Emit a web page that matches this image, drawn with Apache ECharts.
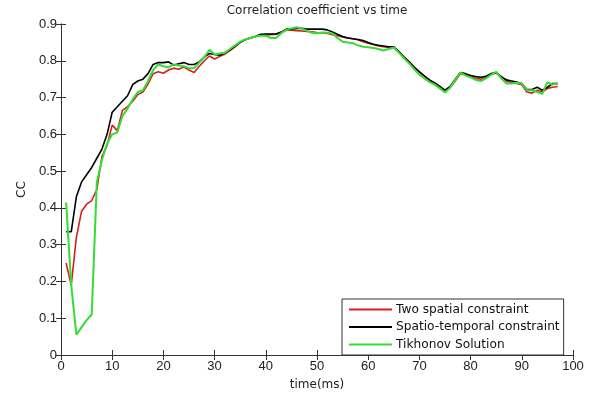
<!DOCTYPE html>
<html>
<head>
<meta charset="utf-8">
<script src="https://cdn.jsdelivr.net/npm/echarts@6/dist/echarts.min.js"></script>
<style>
html,body{margin:0;padding:0;background:#fff;}
#c{width:592px;height:396px;}
</style>
</head>
<body>
<div id="c"></div>
<script>
var times = [1,2,3,4,5,6,7,8,9,10,11,12,13,14,15,16,17,18,19,20,21,22,23,24,25,26,27,28,29,30,31,32,33,34,35,36,37,38,39,40,41,42,43,44,45,46,47,48,49,50,51,52,53,54,55,56,57,58,59,60,61,62,63,64,65,66,67,68,69,70,71,72,73,74,75,76,77,78,79,80,81,82,83,84,85,86,87,88,89,90,91,92,93,94,95,96,97];

var twoSpatial = [0.25,0.19,0.32,0.39,0.41,0.42,0.45,0.54,0.57,0.625,0.61,0.665,0.675,0.69,0.708,0.715,0.737,0.765,0.77,0.766,0.775,0.78,0.777,0.783,0.775,0.768,0.785,0.8,0.813,0.805,0.812,0.818,0.828,0.838,0.85,0.857,0.862,0.866,0.87,0.871,0.871,0.872,0.877,0.883,0.883,0.882,0.881,0.88,0.879,0.877,0.876,0.874,0.871,0.868,0.865,0.862,0.86,0.857,0.852,0.848,0.844,0.84,0.838,0.836,0.836,0.824,0.81,0.797,0.782,0.77,0.758,0.745,0.737,0.727,0.717,0.727,0.745,0.765,0.762,0.758,0.752,0.75,0.755,0.763,0.767,0.755,0.745,0.74,0.738,0.735,0.715,0.712,0.72,0.715,0.725,0.728,0.73];

var spatioTemporal = [0.335,0.335,0.43,0.47,0.49,0.51,0.535,0.56,0.6,0.66,0.675,0.69,0.705,0.735,0.745,0.75,0.765,0.79,0.795,0.795,0.797,0.788,0.792,0.795,0.79,0.79,0.797,0.81,0.82,0.817,0.815,0.822,0.83,0.84,0.85,0.858,0.862,0.866,0.872,0.873,0.873,0.873,0.878,0.886,0.886,0.888,0.888,0.886,0.886,0.886,0.886,0.884,0.878,0.872,0.866,0.862,0.86,0.858,0.855,0.85,0.845,0.842,0.84,0.838,0.838,0.825,0.81,0.797,0.782,0.77,0.758,0.748,0.74,0.73,0.72,0.73,0.75,0.768,0.765,0.76,0.757,0.755,0.758,0.765,0.768,0.757,0.748,0.745,0.742,0.738,0.722,0.722,0.728,0.72,0.728,0.738,0.738];

var tikhonov = [0.415,0.19,0.055,0.075,0.095,0.11,0.47,0.53,0.575,0.6,0.605,0.65,0.67,0.695,0.715,0.72,0.745,0.775,0.79,0.785,0.782,0.79,0.787,0.785,0.78,0.78,0.795,0.81,0.83,0.817,0.82,0.822,0.832,0.842,0.852,0.858,0.862,0.866,0.868,0.868,0.862,0.862,0.875,0.884,0.888,0.891,0.888,0.882,0.876,0.875,0.877,0.876,0.874,0.862,0.852,0.85,0.848,0.842,0.838,0.837,0.835,0.832,0.828,0.832,0.836,0.822,0.807,0.793,0.777,0.762,0.752,0.742,0.735,0.725,0.714,0.727,0.748,0.768,0.76,0.755,0.748,0.745,0.752,0.762,0.77,0.752,0.738,0.738,0.74,0.738,0.72,0.72,0.715,0.71,0.742,0.735,0.74];

var seriesNames = ['Two spatial constraint','Spatio-temporal constraint','Tikhonov Solution'];
var seriesColors = ['#d81e1e','#000000','#33dd33'];

function pairs(vals){ return times.map(function(t,i){ return [t, vals[i]]; }); }

var font = 'Liberation Sans, Arial, sans-serif';
var wide = 'DejaVu Sans, sans-serif';
var axisCommon = {
  axisLine:{show:true, lineStyle:{color:'#333', width:1}},
  axisTick:{show:true, inside:true, length:5, lineStyle:{color:'#333'}},
  splitLine:{show:false}
};

var chart = echarts.init(document.getElementById('c'), null, {renderer:'canvas'});
chart.setOption({
  animation:false,
  backgroundColor:'#fff',
  title:{text:'Correlation coefficient vs time', left:312, top:0, textAlign:'center',
    textStyle:{fontFamily:wide, fontSize:12, fontWeight:'normal', color:'#222'}},
  grid:{left:61, right:19, top:24, bottom:36, containLabel:false},
  legend:{
    orient:'vertical', left:342, top:299,
    data:seriesNames, icon:'rect', itemWidth:43, itemHeight:2, itemGap:2.5,
    padding:[3,4,3,7],
    borderColor:'#333', borderWidth:1, backgroundColor:'#fff',
    textStyle:{fontFamily:wide, fontSize:12.2, color:'#111', lineHeight:14, padding:[1,0,0,-1]}
  },
  xAxis:[
    Object.assign({type:'value', min:0, max:100, interval:10, position:'bottom',
      name:'time(ms)', nameLocation:'middle', nameGap:24,
      nameTextStyle:{fontFamily:wide, fontSize:12, color:'#222'},
      axisLabel:{fontFamily:font, fontSize:13, color:'#222', margin:5}}, axisCommon),
    Object.assign({type:'value', min:0, max:100, interval:10, position:'top',
      axisLabel:{show:false}}, axisCommon)
  ],
  yAxis:[
    Object.assign({type:'value', min:0, max:0.9, interval:0.1, position:'left',
      name:'CC', nameLocation:'middle', nameGap:33, nameRotate:90,
      nameTextStyle:{fontFamily:wide, fontSize:12, color:'#222'},
      axisLabel:{fontFamily:font, fontSize:13, color:'#222', margin:4,
        formatter:function(v){ return String(Math.round(v*10)/10); }}}, axisCommon),
    Object.assign({type:'value', min:0, max:0.9, interval:0.1, position:'right',
      axisLabel:{show:false}}, axisCommon)
  ],
  series:[
    {name:seriesNames[0], type:'line', data:pairs(twoSpatial), showSymbol:false, symbol:'none',
      lineStyle:{color:seriesColors[0], width:1.6}, itemStyle:{color:seriesColors[0]}, xAxisIndex:0, yAxisIndex:0},
    {name:seriesNames[1], type:'line', data:pairs(spatioTemporal), showSymbol:false, symbol:'none',
      lineStyle:{color:seriesColors[1], width:1.6}, itemStyle:{color:seriesColors[1]}, xAxisIndex:0, yAxisIndex:0},
    {name:seriesNames[2], type:'line', data:pairs(tikhonov), showSymbol:false, symbol:'none',
      lineStyle:{color:seriesColors[2], width:2}, itemStyle:{color:seriesColors[2]}, xAxisIndex:0, yAxisIndex:0}
  ]
});
</script>
</body>
</html>
